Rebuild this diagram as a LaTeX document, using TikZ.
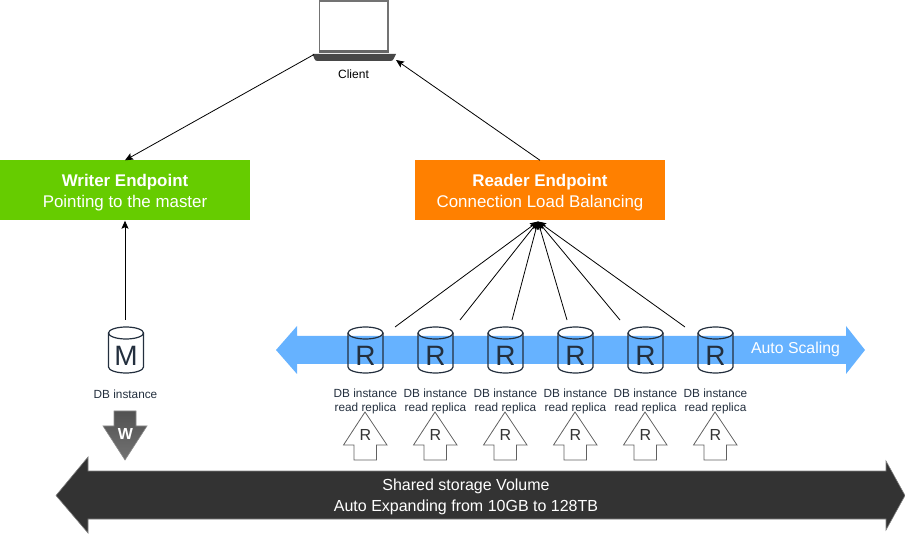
\documentclass[tikz,border=0pt]{standalone}
\usepackage{fontspec}
\setmainfont{Liberation Sans}
\usetikzlibrary{arrows.meta}
\definecolor{awsink}{HTML}{232F3E}
\definecolor{writergreen}{HTML}{66CC00}
\definecolor{readerorange}{HTML}{FF8000}
\definecolor{scaleblue}{HTML}{66B2FF}
\definecolor{storagedark}{HTML}{333333}
\tikzset{
  link/.style={draw=black,line width=0.8pt,-{Stealth[length=8pt,width=7pt,inset=1.5pt]}},
  endpoint/.style={minimum width=250pt,minimum height=60pt,inner sep=0pt},
  endpointtext/.style={text=white,align=center,inner sep=0pt,font=\fontsize{16.9}{21}\selectfont},
  dbicon/.style={draw=awsink,line width=1.2pt},
  dbletter/.style={text=awsink,inner sep=0pt,font=\fontsize{28}{28}\selectfont},
  dblabel/.style={text=awsink,align=center,inner sep=0pt,font=\fontsize{11.8}{14}\selectfont},
  uparrow/.style={draw=black!62,line width=0.8pt,fill=white},
  uptext/.style={text=storagedark,inner sep=0pt,font=\fontsize{16}{16}\selectfont},
}
\newcommand{\dbcyl}[3]{% x, name, letter
  \draw[dbicon] ({#1-17.5},333) .. controls ({#1-17.5},329.7) and ({#1-9.6},327) .. (#1,327)
     .. controls ({#1+9.6},327) and ({#1+17.5},329.7) .. ({#1+17.5},333)
     .. controls ({#1+17.5},336.3) and ({#1+9.6},339) .. (#1,339)
     .. controls ({#1-9.6},339) and ({#1-17.5},336.3) .. ({#1-17.5},333) -- cycle;
  \draw[dbicon] ({#1-17.5},333) -- ({#1-17.5},367)
     .. controls ({#1-17.5},370.3) and ({#1-9.6},373) .. (#1,373)
     .. controls ({#1+9.6},373) and ({#1+17.5},370.3) .. ({#1+17.5},367) -- ({#1+17.5},333);
  \node[dbletter] (#2) at (#1,355.5) {#3};
}
\begin{document}
\begin{tikzpicture}[x=1pt,y=-1pt]
\useasboundingbox (0,0) rectangle (905,534);

% Laptop
\draw[draw=black!55,line width=1.4pt,fill=white] (319.5,52) -- (319.5,1) -- (388,1) -- (388,52);
\fill[black!60] (319,50) rectangle (389,53);
\fill[black!72] (312.5,54) -- (396,54) -- (393.5,59) .. controls (393,60.5) and (392,61) .. (390,61) -- (318,61) .. controls (316,61) and (315,60.5) .. (314.5,59) -- cycle;
\node[inner sep=0pt,font=\fontsize{12}{14}\selectfont] (client) at (353.5,74) {Client};
\coordinate (laptopL) at (314,54.5);
\coordinate (laptopR) at (396,60);

% Endpoints
\node[endpoint,fill=writergreen] (writer) at (125,190.5) {};
\node[endpointtext] (writertext) at (125,192.2) {\textbf{Writer Endpoint}\\Pointing to the master};
\node[endpoint,fill=readerorange] (reader) at (540,190.5) {};
\node[endpointtext] (readertext) at (540,192.2) {\textbf{Reader Endpoint}\\Connection Load Balancing};

% Auto scaling arrow
\fill[scaleblue] (276,350) -- (297,326) -- (297,336) -- (846,336) -- (846,326) -- (865,350) -- (846,374) -- (846,364) -- (297,364) -- (297,374) -- cycle;
\node[text=white,inner sep=0pt,font=\fontsize{15.8}{18}\selectfont] (scaling) at (795.5,349.5) {Auto Scaling};

% Shared storage arrow
\path[fill=storagedark,draw=black!50,line width=0.6pt] (56,495.5) -- (88,457) -- (88,471) -- (886,471) -- (886,461) -- (905,495.5) -- (886,530) -- (886,519) -- (88,519) -- (88,533) -- cycle;
\node[text=white,align=center,inner sep=0pt,font=\fontsize{16}{21}\selectfont] (storage) at (466,497) {Shared storage Volume\\Auto Expanding from 10GB to 128TB};

% Master DB
\dbcyl{126}{master}{M}
\node[dblabel] (masterlabel) at (125.5,394) {DB instance};
\coordinate (masterTop) at (125,320);
\draw[link] (masterTop) -- (writer.south -| masterTop);

% Write arrow
\path[draw=black!45,line width=0.6pt,top color=black!68,bottom color=black!55] (114,411) -- (136,411) -- (136,426) -- (147,426) -- (125,460) -- (103,426) -- (114,426) -- cycle;
\node[text=white,inner sep=0pt,font=\bfseries\fontsize{16}{16}\selectfont] (wlabel) at (125.5,434) {W};

% Replicas
\foreach \cx/\idx in {365.5/1,435.5/2,505.5/3,575.5/4,645.5/5,715.5/6}{
  \dbcyl{\cx}{rep\idx}{R}
  \path[uparrow] (\cx-0.5,412) -- (\cx+21.5,445) -- (\cx+11,445) -- (\cx+11,460) -- (\cx-11.5,460) -- (\cx-11.5,445) -- (\cx-22,445) -- cycle;
  \node[dblabel] (replabel\idx) at (\cx,401) {DB instance\\read replica};
  \node[uptext] (upr\idx) at (\cx,434.5) {R};
}

% Connectors
\coordinate (hub) at (538,221.5);
\coordinate (c1) at (395,327);
\coordinate (c2) at (460,320);
\coordinate (c3) at (512,320);
\coordinate (c4) at (567,320);
\coordinate (c5) at (620,320);
\coordinate (c6) at (685,327);
\foreach \k in {1,...,6}{ \draw[link] (c\k) -- (hub); }
\draw[link] (reader.north) -- (laptopR);
\draw[link] (laptopL) -- (writer.north);
\end{tikzpicture}
\end{document}
